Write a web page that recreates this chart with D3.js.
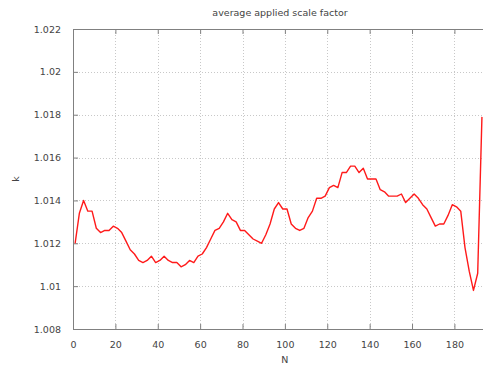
<!DOCTYPE html>
<html>
<head>
<meta charset="utf-8">
<title>average applied scale factor</title>
<script src="https://cdn.jsdelivr.net/npm/d3@7"></script>
<style>
body{
  margin:0;
  background:#fff}

text{
  font-family:"DejaVu Sans", sans-serif;
  font-size:9.5px;
  fill:#444}

.grid line{
  stroke:#c8c8c8;
  stroke-width:1;
  stroke-dasharray:1,2;
  shape-rendering:crispEdges}

.border{
  fill:none;
  stroke:#808080;
  stroke-width:1;
  shape-rendering:crispEdges}

.curve{
  fill:none;
  stroke:#ff1a1a;
  stroke-width:1.4;
  stroke-linejoin:round}
</style>
</head>
<body>
<script>
// values (N is odd, 1..193)
const nValues = d3.range(1, 194, 2)
const kValues = [
  1.0120, 1.0134, 1.0140, 1.0135, 1.0135, 1.0127, 1.0125, 1.0126, 1.0126, 1.0128,
  1.0127, 1.0125, 1.0121, 1.0117, 1.0115, 1.0112, 1.0111, 1.0112, 1.0114, 1.0111,
  1.0112, 1.0114, 1.0112, 1.0111, 1.0111, 1.0109, 1.0110, 1.0112, 1.0111, 1.0114,
  1.0115, 1.0118, 1.0122, 1.0126, 1.0127, 1.0130, 1.0134, 1.0131, 1.0130, 1.0126,
  1.0126, 1.0124, 1.0122, 1.0121, 1.0120, 1.0124, 1.0129, 1.0136, 1.0139, 1.0136,
  1.0136, 1.0129, 1.0127, 1.0126, 1.0127, 1.0132, 1.0135, 1.0141, 1.0141, 1.0142,
  1.0146, 1.0147, 1.0146, 1.0153, 1.0153, 1.0156, 1.0156, 1.0153, 1.0155, 1.0150,
  1.0150, 1.0150, 1.0145, 1.0144, 1.0142, 1.0142, 1.0142, 1.0143, 1.0139, 1.0141,
  1.0143, 1.0141, 1.0138, 1.0136, 1.0132, 1.0128, 1.0129, 1.0129, 1.0133, 1.0138,
  1.0137, 1.0135, 1.0118, 1.0107, 1.0098, 1.0106, 1.0179
]
const xTicks = [0, 20, 40, 60, 80, 100, 120, 140, 160, 180]
const yTicks = [1.008, 1.01, 1.012, 1.014, 1.016, 1.018, 1.02, 1.022]

const title = 'average applied scale factor'
const xLabel = 'N'
const yLabel = 'k'

const data = nValues.map((n, i) => ({ n: n, k: kValues[i] }))

// Plot box
const W = 483, H = 370
const margin = { top: 29, right: 0, bottom: 41, left: 73 }
const width = W - margin.left - margin.right
const height = H - margin.top - margin.bottom

const svg = d3.select('body')
  .append('svg')
    .attr('width', W)
    .attr('height', H)

const g = svg.append('g')
    .attr('transform', `translate(${margin.left}, ${margin.top})`)

// Scales
const x = d3.scaleLinear().domain([0, 193.5]).range([0, width])
const y = d3.scaleLinear().domain([1.008, 1.022]).range([height, 0])

// Dotted grid
const grid = g.append('g').attr('class', 'grid')
grid.selectAll('.gx')
  .data(xTicks.filter(d => d > 0))
  .enter().append('line')
    .attr('x1', d => Math.round(x(d)) + 0.5)
    .attr('x2', d => Math.round(x(d)) + 0.5)
    .attr('y1', 0)
    .attr('y2', height)
grid.selectAll('.gy')
  .data(yTicks.filter(d => d > 1.008 && d < 1.022))
  .enter().append('line')
    .attr('x1', 0)
    .attr('x2', width)
    .attr('y1', d => Math.round(y(d)) + 0.5)
    .attr('y2', d => Math.round(y(d)) + 0.5)

// Axes (ticks drawn inward, gnuplot style)
const fmt = d3.format('~g')

g.append('g')
    .attr('transform', `translate(0, ${height})`)
    .call(d3.axisBottom(x).tickValues(xTicks).tickSize(-5).tickPadding(12).tickFormat(d3.format('d')))
g.append('g')
    .call(d3.axisTop(x).tickValues(xTicks).tickSize(-5).tickFormat(''))
g.append('g')
    .call(d3.axisLeft(y).tickValues(yTicks).tickSize(-5).tickPadding(12).tickFormat(fmt))

g.selectAll('.domain').remove()
g.selectAll('.tick line').attr('stroke', '#808080')
g.selectAll('.tick text').attr('fill', '#444').attr('font-size', 9.5)

// Border (left, top, bottom)
g.append('path')
    .attr('class', 'border')
    .attr('d', `M${width},0.5H0.5V${height + 0.5}H${width}`)

// Curve
g.append('path')
    .datum(data)
    .attr('class', 'curve')
    .attr('d', d3.line().x(d => x(d.n)).y(d => y(d.k)))

// Labels
svg.append('text')
    .attr('x', 280)
    .attr('y', 16)
    .attr('text-anchor', 'middle')
    .text(title)

svg.append('text')
    .attr('x', margin.left + x(100))
    .attr('y', 363)
    .attr('text-anchor', 'middle')
    .text(xLabel)

svg.append('text')
    .attr('transform', `translate(19, ${margin.top + height / 2}) rotate(-90)`)
    .attr('text-anchor', 'middle')
    .text(yLabel)
</script>
</body>
</html>
